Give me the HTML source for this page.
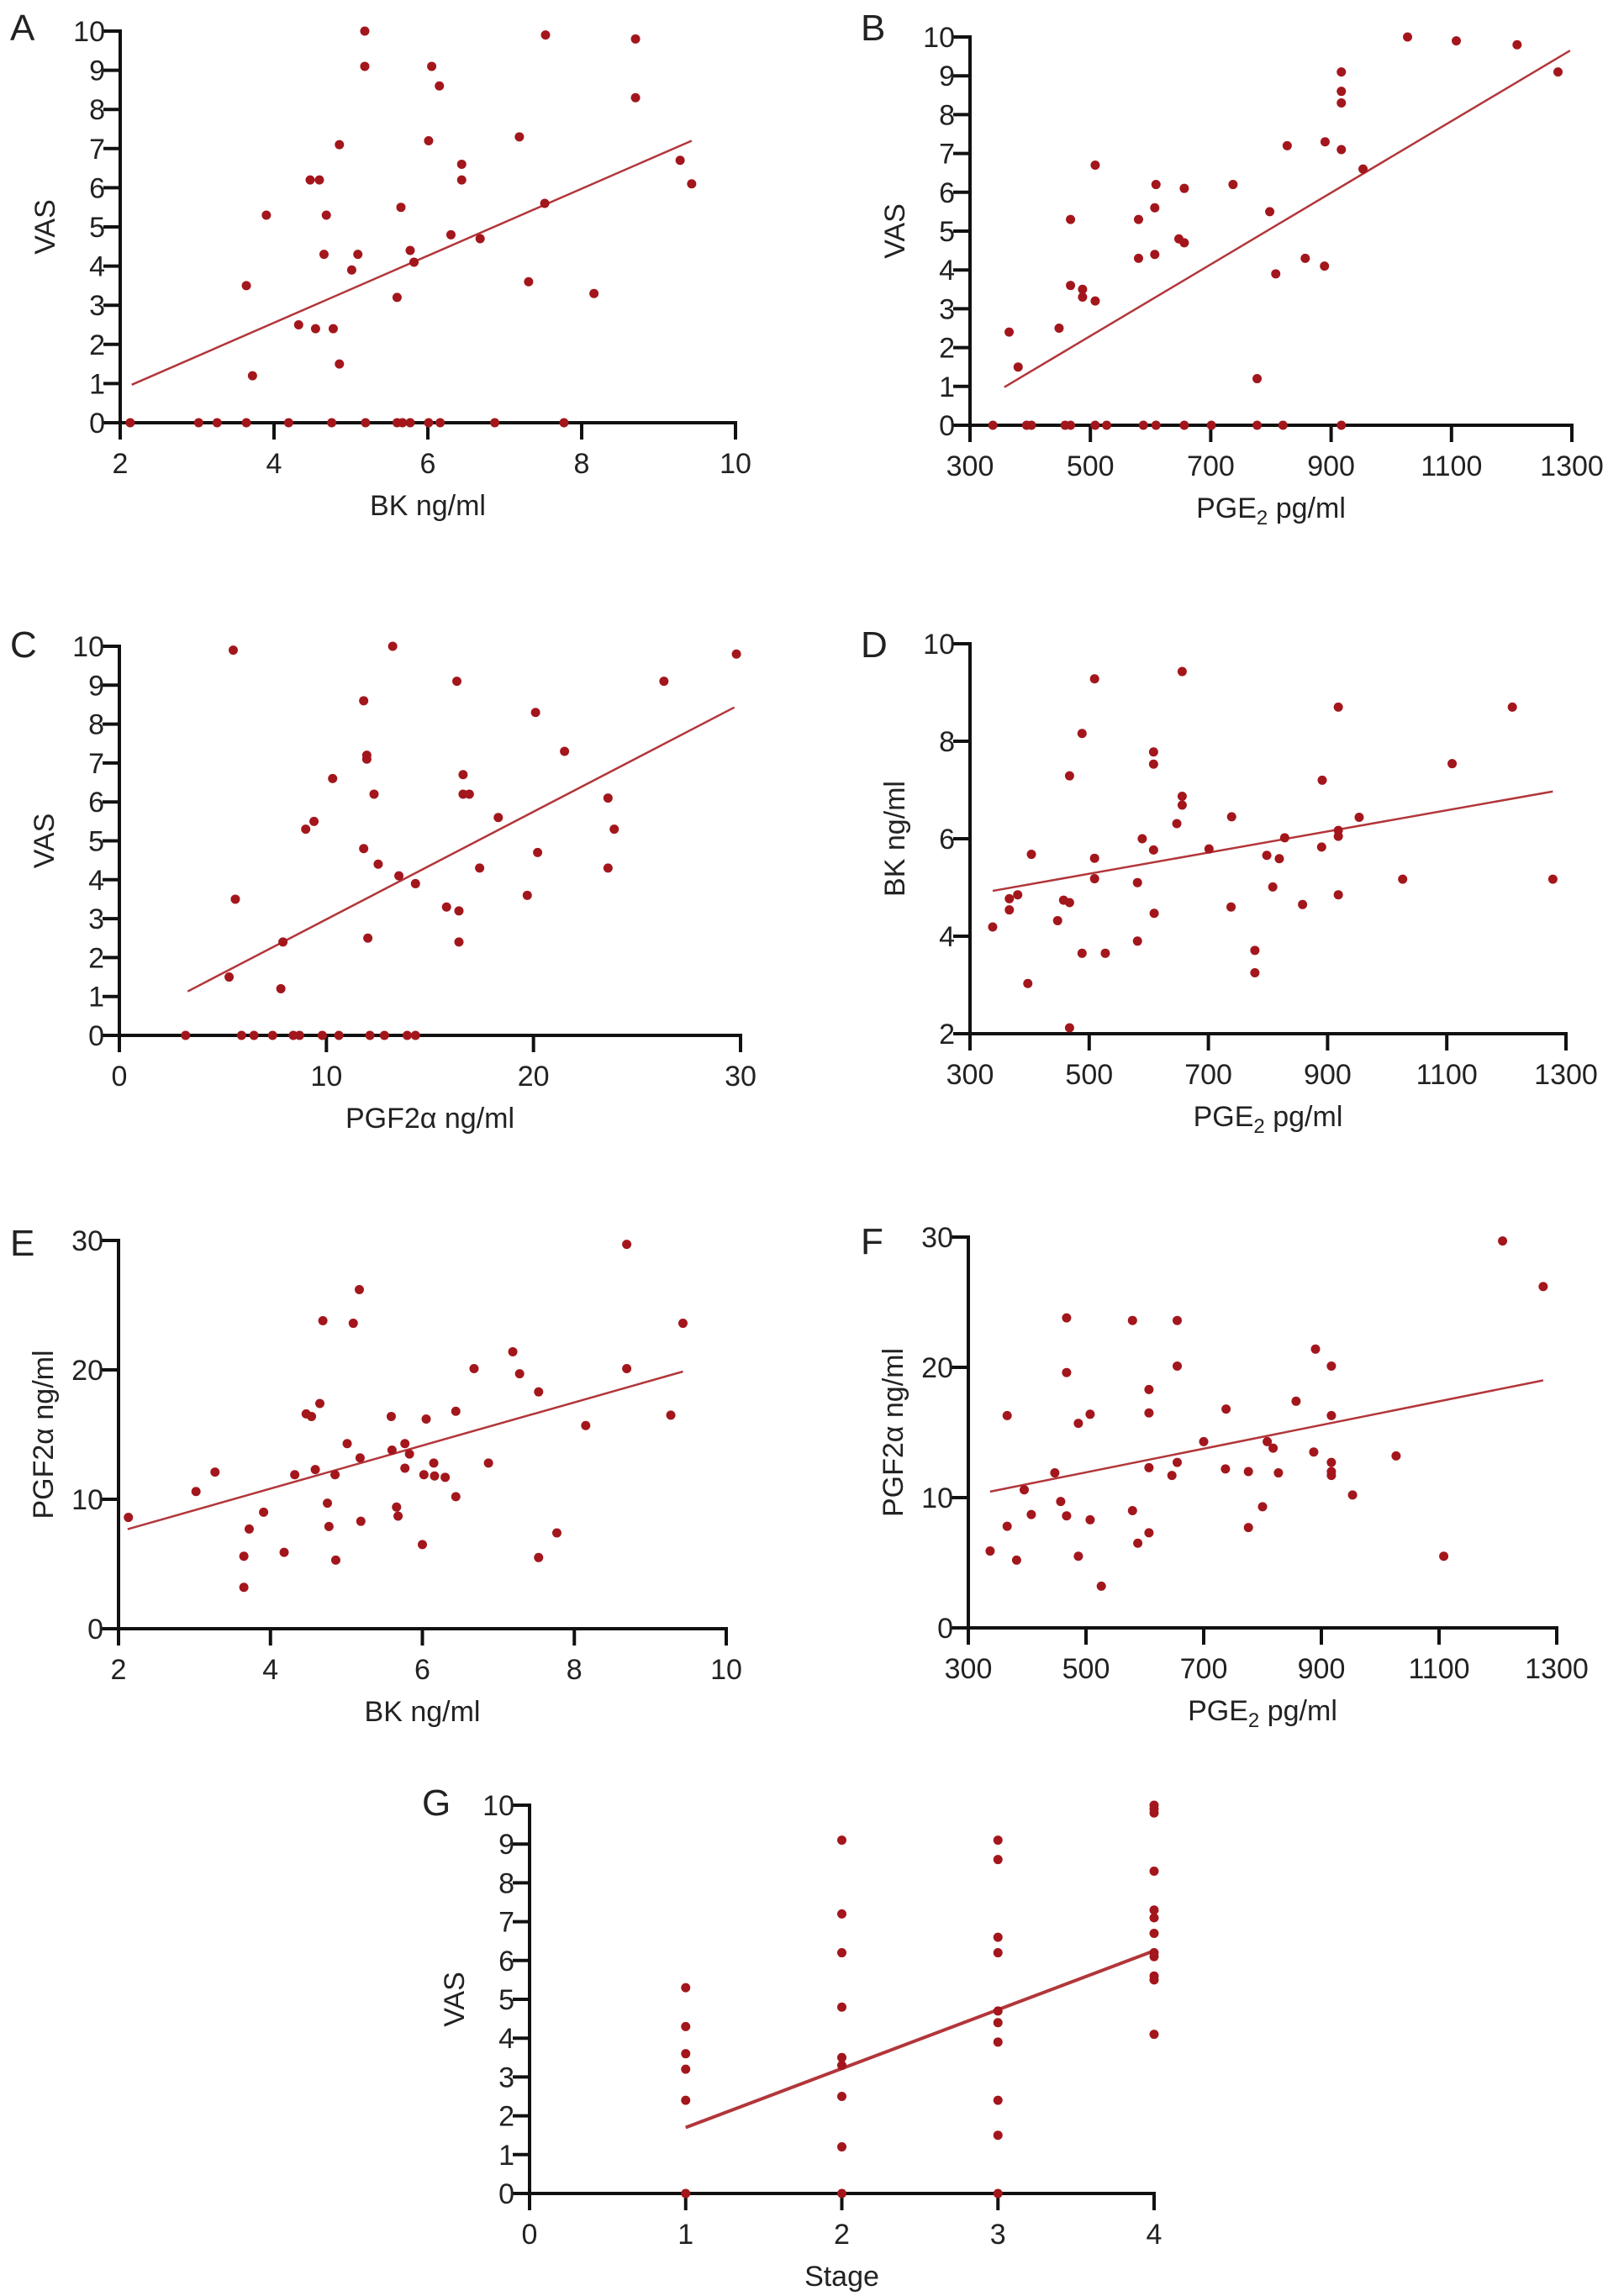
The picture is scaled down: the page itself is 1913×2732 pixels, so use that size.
<!DOCTYPE html>
<html><head><meta charset="utf-8"><style>
html,body{margin:0;padding:0;background:#fff;}
svg{display:block;}
text{font-family:"Liberation Sans",Arial,sans-serif;fill:#222;}
</style></head><body>
<svg id="fig" width="1913" height="2732" viewBox="0 0 1913 2732" xmlns="http://www.w3.org/2000/svg"></svg>
<script>
// Panel A: VAS vs BK
const aX=[5.18,5.18,7.53,8.70,8.70,6.05,6.15,4.85,7.19,6.01,6.44,6.44,4.47,4.59,9.28,9.43,3.90,4.68,5.65,7.52,6.30,6.68,4.65,5.09,5.77,5.82,5.01,3.64,7.31,8.16,5.60,4.32,4.54,4.77,4.85,3.72,2.13,3.02,3.26,3.64,4.19,4.75,5.19,5.60,5.67,5.77,6.01,6.16,6.87,7.77];
const aY=[10,9.1,9.9,9.8,8.3,9.1,8.6,7.1,7.3,7.2,6.6,6.2,6.2,6.2,6.7,6.1,5.3,5.3,5.5,5.6,4.8,4.7,4.3,4.3,4.4,4.1,3.9,3.5,3.6,3.3,3.2,2.5,2.4,2.4,1.5,1.2,0,0,0,0,0,0,0,0,0,0,0,0,0,0];
const aFit=[2.15,0.97,9.43,7.2];
// Panel B: VAS vs PGE2
const bX=[1027,1108,1209,1277,917,917,917,827,890,917,953,508,609,656,737,607,580,467,798,647,656,580,607,857,889,808,467,487,487,508,448,365,380,777,338,394,402,458,467,508,527,588,609,656,701,777,820,917];
const bY=[10,9.9,9.8,9.1,9.1,8.6,8.3,7.2,7.3,7.1,6.6,6.7,6.2,6.1,6.2,5.6,5.3,5.3,5.5,4.8,4.7,4.3,4.4,4.3,4.1,3.9,3.6,3.5,3.3,3.2,2.5,2.4,1.5,1.2,0,0,0,0,0,0,0,0,0,0,0,0,0,0];
const bFit=[357,0.98,1297,9.65];
// Panel C: VAS vs PGF2a
const cX=[13.2,5.5,29.8,16.3,26.3,11.8,20.1,11.95,11.95,21.5,10.3,16.6,12.3,16.6,16.9,23.6,9.4,9.0,18.3,23.9,11.8,20.2,12.5,17.4,23.6,13.5,14.3,5.6,19.7,15.8,16.4,12.0,7.9,16.4,5.3,7.8,3.2,5.9,6.5,7.4,8.4,8.7,9.8,10.6,12.1,12.8,13.9,14.3];
const cY=[10,9.9,9.8,9.1,9.1,8.6,8.3,7.2,7.1,7.3,6.6,6.7,6.2,6.2,6.2,6.1,5.5,5.3,5.6,5.3,4.8,4.7,4.4,4.3,4.3,4.1,3.9,3.5,3.6,3.3,3.2,2.5,2.4,2.4,1.5,1.2,0,0,0,0,0,0,0,0,0,0,0,0];
const cFit=[3.3,1.13,29.7,8.43];
// Panel D: BK vs PGE2
const dX=[656,509,918,1210,488,608,608,1109,467,891,656,656,647,739,953,589,828,918,918,608,701,890,403,509,798,819,509,581,1026,1278,808,380,366,366,457,467,918,858,738,609,447,338,581,488,527,778,778,397,467];
const dY=[9.43,9.28,8.70,8.70,8.16,7.78,7.53,7.54,7.29,7.20,6.87,6.69,6.31,6.45,6.44,6.00,6.02,6.17,6.05,5.77,5.79,5.83,5.68,5.60,5.66,5.59,5.18,5.10,5.17,5.17,5.01,4.85,4.77,4.54,4.74,4.69,4.85,4.65,4.60,4.47,4.32,4.19,3.90,3.65,3.65,3.71,3.25,3.03,2.12];
const dFit=[338,4.93,1278,6.97];
// Panel E: PGF2a vs BK
const eX=[8.69,5.17,4.69,5.09,9.43,7.19,6.68,7.28,8.69,7.53,4.65,4.47,4.54,5.59,6.05,6.44,9.27,8.15,5.01,5.77,5.60,5.83,5.18,6.15,6.87,5.77,4.59,3.27,4.32,4.85,6.02,6.16,6.30,3.02,6.44,4.75,5.66,3.91,2.13,5.68,5.19,3.72,4.77,7.77,6.00,4.18,3.65,4.86,7.53,3.65];
const eY=[29.7,26.2,23.8,23.6,23.6,21.4,20.1,19.7,20.1,18.3,17.4,16.6,16.4,16.4,16.2,16.8,16.5,15.7,14.3,14.3,13.8,13.5,13.2,12.8,12.8,12.4,12.3,12.1,11.9,11.9,11.9,11.8,11.7,10.6,10.2,9.7,9.4,9.0,8.6,8.7,8.3,7.7,7.9,7.4,6.5,5.9,5.6,5.3,5.5,3.2];
const eFit=[2.12,7.69,9.43,19.87];
// Panel F: PGF2a vs PGE2
const fX=[1208,1277,467,579,655,890,467,655,917,607,857,366,507,607,738,917,487,700,808,818,887,1027,655,917,607,737,776,827,917,917,447,646,395,953,457,800,579,407,467,507,366,776,607,588,337,487,382,1108,526];
const fY=[29.7,26.2,23.8,23.6,23.6,21.4,19.6,20.1,20.1,18.3,17.4,16.3,16.4,16.5,16.8,16.3,15.7,14.3,14.3,13.8,13.5,13.2,12.7,12.7,12.3,12.2,12.0,11.9,12.0,11.7,11.9,11.7,10.6,10.2,9.7,9.3,9.0,8.7,8.6,8.3,7.8,7.7,7.3,6.5,5.9,5.5,5.2,5.5,3.2];
const fFit=[337,10.46,1277,19.0];
// Panel G: VAS vs Stage
const gX=[1,1,1,1,1,1,2,2,2,2,2,2,2,2,2,3,3,3,3,3,3,3,3,3,3,4,4,4,4,4,4,4,4,4,4,4,4];
const gY=[5.3,4.3,3.6,3.2,2.4,0,9.1,7.2,6.2,4.8,3.5,3.3,2.5,1.2,0,9.1,8.6,6.6,6.2,4.7,4.4,3.9,2.4,1.5,0,10.0,9.9,9.8,8.3,7.3,7.1,6.7,6.2,6.1,5.6,5.5,4.1];
const gFit=[1,1.70,4,6.25];

const vasTicks=[0,1,2,3,4,5,6,7,8,9,10];
const bkTicks=[2,4,6,8,10];
const pgeTicks=[300,500,700,900,1100,1300];
const pgfTicks=[0,10,20,30];
const bkYTicks=[2,4,6,8,10];
const stageTicks=[0,1,2,3,4];

const NS="http://www.w3.org/2000/svg";
const svg=document.getElementById('fig');
function mk(tag,attrs,parent){const e=document.createElementNS(NS,tag);for(const k in attrs)e.setAttribute(k,attrs[k]);(parent||svg).appendChild(e);return e;}

const panels=[
 {id:'a',letter:'A',lx:12,ly:48,L:143,R:875,T:37,B:503,x0:2,x1:10,y0:0,y1:10,xt:bkTicks,yt:vasTicks,X:aX,Y:aY,fit:aFit,xl:'BK ng/ml',yl:'VAS',lw:2.5},
 {id:'b',letter:'B',lx:1024,ly:48,L:1154,R:1870,T:44,B:506,x0:300,x1:1300,y0:0,y1:10,xt:pgeTicks,yt:vasTicks,X:bX,Y:bY,fit:bFit,xl:'PGE2',yl:'VAS',lw:2.5},
 {id:'c',letter:'C',lx:12,ly:782,L:142,R:881,T:769,B:1232,x0:0,x1:30,y0:0,y1:10,xt:pgfTicks,yt:vasTicks,X:cX,Y:cY,fit:cFit,xl:'PGF2α ng/ml',yl:'VAS',lw:2.5},
 {id:'d',letter:'D',lx:1024,ly:782,L:1154,R:1863,T:766,B:1230,x0:300,x1:1300,y0:2,y1:10,xt:pgeTicks,yt:bkYTicks,X:dX,Y:dY,fit:dFit,xl:'PGE2',yl:'BK ng/ml',lw:2.5},
 {id:'e',letter:'E',lx:12,ly:1494,L:141,R:864,T:1476,B:1938,x0:2,x1:10,y0:0,y1:30,xt:bkTicks,yt:pgfTicks,X:eX,Y:eY,fit:eFit,xl:'BK ng/ml',yl:'PGF2α ng/ml',lw:2.5},
 {id:'f',letter:'F',lx:1024,ly:1492,L:1152,R:1852,T:1472,B:1937,x0:300,x1:1300,y0:0,y1:30,xt:pgeTicks,yt:pgfTicks,X:fX,Y:fY,fit:fFit,xl:'PGE2',yl:'PGF2α ng/ml',lw:2.5},
 {id:'g',letter:'G',lx:502,ly:2160,L:630,R:1373,T:2148,B:2610,x0:0,x1:4,y0:0,y1:10,xt:stageTicks,yt:vasTicks,X:gX,Y:gY,fit:gFit,xl:'Stage',yl:'VAS',lw:4}
];

const TL=20;
panels.forEach(p=>{
  const g=mk('g',{});
  
  
  const sx=v=>p.L+(v-p.x0)/(p.x1-p.x0)*(p.R-p.L);
  const sy=v=>p.B-(v-p.y0)/(p.y1-p.y0)*(p.B-p.T);
  const lt=mk('text',{x:p.lx,y:p.ly,'font-size':44},g);lt.textContent=p.letter;
  
  
  // axes
  const ya=mk('line',{x1:p.L,y1:p.T-2,x2:p.L,y2:p.B+TL,stroke:'#111','stroke-width':4},g);
  
  
  const xa=mk('line',{x1:p.L-TL,y1:p.B,x2:p.R+2,y2:p.B,stroke:'#111','stroke-width':4},g);
  
  
  p.yt.forEach(v=>{
    const y=sy(v);
    mk('line',{x1:p.L-TL,y1:y,x2:p.L,y2:y,stroke:'#111','stroke-width':4},g);
    const t=mk('text',{x:p.L-18,y:y+12,'font-size':34,'text-anchor':'end'},g);t.textContent=v;
    
    
  });
  p.xt.forEach(v=>{
    const x=sx(v);
    mk('line',{x1:x,y1:p.B,x2:x,y2:p.B+TL,stroke:'#111','stroke-width':4},g);
    const t=mk('text',{x:x,y:p.B+60,'font-size':34,'text-anchor':'middle'},g);t.textContent=v;
    
    
  });
  // x title
  const xt=mk('text',{x:(p.L+p.R)/2,y:p.B+110,'font-size':34,'text-anchor':'middle'},g);
  if(p.xl==='PGE2'){
    xt.appendChild(document.createTextNode('PGE'));
    const s=mk('tspan',{'font-size':24,dy:8},xt);s.textContent='2';
    const r=mk('tspan',{dy:-8},xt);r.textContent=' pg/ml';
  } else xt.textContent=p.xl;
  
  
  const cy=(p.T+p.B)/2;
  const yt=mk('text',{x:p.L-78,y:cy,'font-size':34,'text-anchor':'middle',transform:'rotate(-90 '+(p.L-78)+' '+cy+')'},g);
  yt.textContent=p.yl;
  
  
  // fit line
  const fl=mk('line',{x1:sx(p.fit[0]),y1:sy(p.fit[1]),x2:sx(p.fit[2]),y2:sy(p.fit[3]),stroke:'#b2363a','stroke-width':p.lw},g);
  
  
  // points
  p.X.forEach((xv,i)=>{
    const c=mk('circle',{cx:sx(xv),cy:sy(p.Y[i]),r:5.5,fill:'#a3161c'},g);
    
    
  });
});
</script>
</body></html>
